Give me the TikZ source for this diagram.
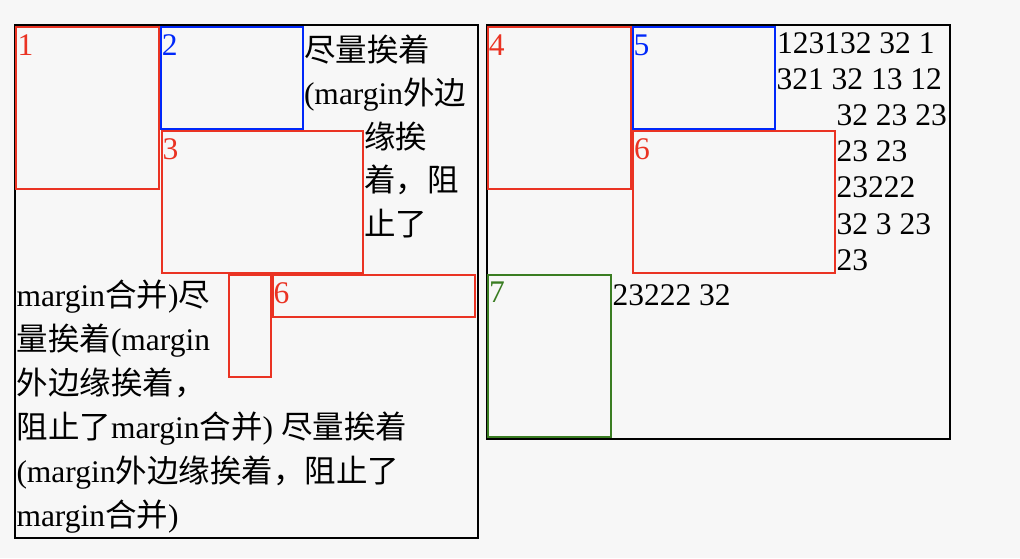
\documentclass[tikz,border=0pt]{standalone}
\usepackage{fontspec}
\setmainfont{Liberation Serif}
\newfontfamily\cjk{Noto Sans CJK SC}
\newcommand\zh[1]{{\cjk #1}}
\definecolor{bgc}{HTML}{F7F7F7}
\definecolor{cred}{HTML}{EA3323}
\definecolor{cblue}{HTML}{0028FA}
\definecolor{cgreen}{HTML}{3A7D22}
\begin{document}
\begin{tikzpicture}[x=1pt,y=-1pt,
  outerbox/.style={draw=black,line width=2pt},
  redbox/.style={draw=cred,line width=1.7pt},
  bluebox/.style={draw=cblue,line width=1.7pt},
  greenbox/.style={draw=cgreen,line width=1.7pt},
  txt/.style={anchor=base west,inner sep=0pt,outer sep=0pt,font=\fontsize{31.5}{36}\selectfont},
  lab/.style={txt,text=#1}]
\fill[bgc] (0,0) rectangle (1020,558);
\useasboundingbox (0,0) rectangle (1020,558);
% left container
\draw[outerbox] (15,25) rectangle (477.5,538.2);
\draw[redbox] (16.3,27.3) rectangle (159,189);
\draw[bluebox] (161,27.3) rectangle (302.7,128.7);
\draw[redbox] (162,131) rectangle (362.7,272.7);
\draw[redbox] (229.3,275) rectangle (270.7,376.7);
\draw[redbox] (272.7,275) rectangle (474.7,316.7);
\node[lab=cred] (l1) at (17.5,55) {1};
\node[lab=cblue] (l2) at (161.8,55) {2};
\node[lab=cred] (l3) at (162.5,159) {3};
\node[lab=cred] (l6a) at (273.5,303) {6};
\node[txt] (t1) at (304,61) {\zh{尽量挨着}};
\node[txt] (t2) at (304,104.5) {(margin\zh{外边}};
\node[txt] (t3) at (364,148) {\zh{缘挨}};
\node[txt] (t4) at (364,191.5) {\zh{着，阻}};
\node[txt] (t5) at (364,235) {\zh{止了}};
\node[txt] (t6) at (16.5,306.5) {margin\zh{合并})\zh{尽}};
\node[txt] (t7) at (16.5,350.5) {\zh{量挨着}(margin};
\node[txt] (t8) at (16.5,394.5) {\zh{外边缘挨着，}};
\node[txt] (t9) at (16.5,438.5) {\zh{阻止了}margin\zh{合并}) \zh{尽量挨着}};
\node[txt] (t10) at (16.5,482.5) {(margin\zh{外边缘挨着，阻止了}};
\node[txt] (t11) at (16.5,526.5) {margin\zh{合并})};
% right container
\draw[outerbox] (487,25.2) rectangle (949.5,439.2);
\draw[redbox] (488,27) rectangle (631,189);
\draw[bluebox] (632.7,27) rectangle (775.3,128.7);
\draw[redbox] (633,131) rectangle (835,273);
\draw[greenbox] (488,275) rectangle (611,436.7);
\node[lab=cred] (l4) at (488.8,55) {4};
\node[lab=cblue] (l5) at (633.5,55) {5};
\node[lab=cred] (l6b) at (634,159) {6};
\node[lab=cgreen] (l7) at (489,302.5) {7};
\node[txt] (r1) at (777,53) {123132 32 1};
\node[txt] (r2) at (776.5,89) {321 32 13 12};
\node[txt] (r3) at (836.5,125) {32 23 23};
\node[txt] (r4) at (836.5,161.5) {23 23};
\node[txt] (r5) at (836.5,197.5) {23222};
\node[txt] (r6) at (836.5,234) {32 3 23};
\node[txt] (r7) at (836.5,270) {23};
\node[txt] (r8) at (612.5,305.7) {23222 32};
\end{tikzpicture}
\end{document}
